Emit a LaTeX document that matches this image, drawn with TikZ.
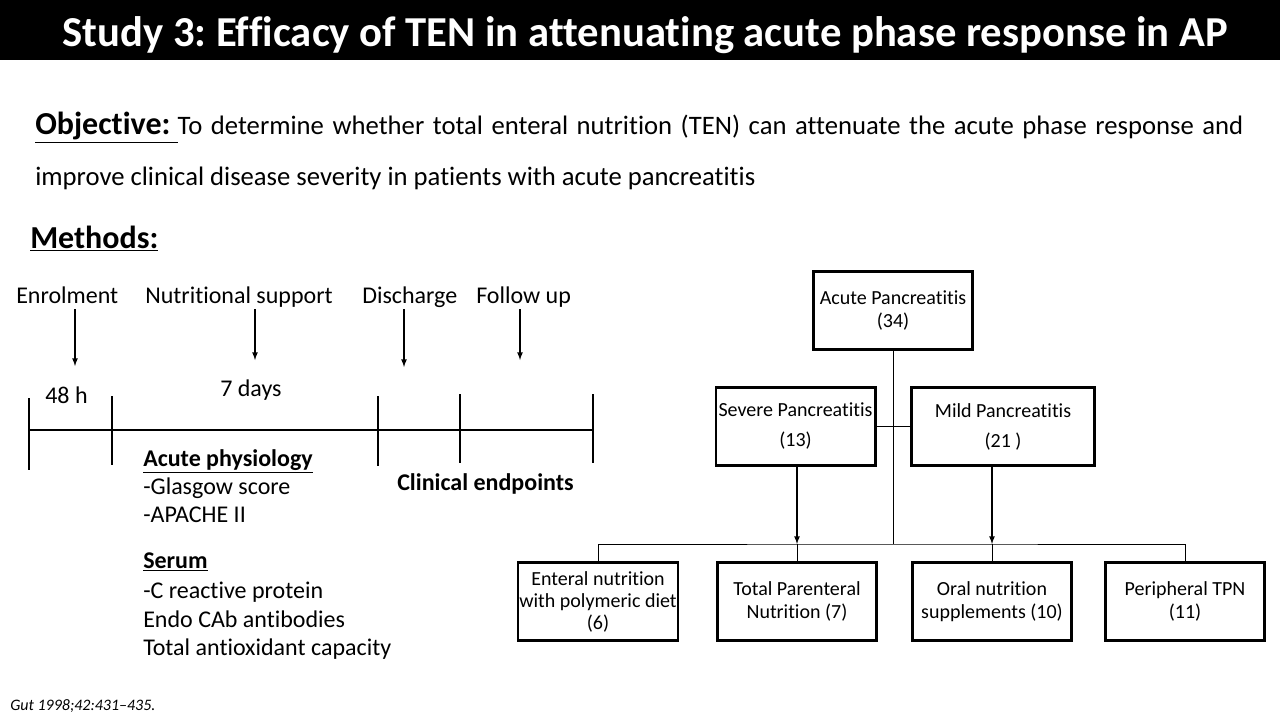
\documentclass[tikz,border=0pt]{standalone}
\usepackage{fontspec}
\setmainfont{Carlito}[Ligatures=NoCommon]
\usetikzlibrary{arrows.meta}
\frenchspacing
\tikzset{
  txt/.style={anchor=base west, inner sep=0pt, font=\fontsize{18}{21.5}\selectfont},
  stage/.style={txt, text depth=4.5pt},
  box/.style={draw, line width=2pt, align=center, inner sep=1pt, minimum width=119.5pt, minimum height=58.75pt, font=\fontsize{15}{17.25}\selectfont},
  link/.style={line width=0.75pt},
}

\begin{document}
\begin{tikzpicture}[x=0.75pt,y=-0.75pt]
                \useasboundingbox (0,0) rectangle (1280,720);
                % title bar
                \fill[black] (0,0) rectangle (1280,60);
                \node[anchor=base, inner sep=0pt, text=white, font=\fontsize{32}{38}\selectfont\bfseries] (title) at (645,47) {Study 3: Efficacy of TEN in attenuating acute phase response in AP};

                \node[txt, text width=906pt, align=justify, font=\fontsize{20}{38}\selectfont] (objective) at (35,135) {{\fontsize{24}{28}\selectfont\bfseries\underline{Objective:\ }}To determine whether total enteral nutrition (TEN) can attenuate the acute phase response and\linebreak improve clinical disease severity in patients with acute pancreatitis};
                \node[txt, font=\fontsize{24}{28}\selectfont\bfseries] (methods) at (30,248) {\underline{Methods:}};

                % timeline
                \node[stage] (enrol) at (16,303) {Enrolment};
                \node[stage] (nutr) at (145,303) {Nutritional support};
                \node[stage] (disch) at (362,303) {Discharge};
                \node[stage] (follow) at (476,303) {Follow up};
                \coordinate (enrolTip) at (75,366);
                \coordinate (nutrTip) at (255,360);
                \coordinate (dischTip) at (404,367);
                \coordinate (followTip) at (520,360);
                \draw[-latex, line width=1pt] (enrol.south -| enrolTip) -- (enrolTip);
                \draw[-latex, line width=1pt] (nutr.south -| nutrTip) -- (nutrTip);
                \draw[-latex, line width=1pt] (disch.south -| dischTip) -- (dischTip);
                \draw[-latex, line width=1pt] (follow.south -| followTip) -- (followTip);
                \node[txt] (hours) at (45,403) {48 h};
                \node[txt] (days) at (220,396) {7 days};

                \draw[line width=1.2pt] (30,430) -- (593,430);
                \draw[line width=1.3pt] (29,398) -- (29,470);
                \draw[line width=1.3pt] (112,396) -- (112,465);
                \draw[line width=1.3pt] (378,396) -- (378,466);
                \draw[line width=1.3pt] (460,394) -- (460,463);
                \draw[line width=1.3pt] (593,394) -- (593,463);

                % measurements
                \node[txt, font=\fontsize{18}{21.5}\selectfont\bfseries] (physio) at (143,466) {\underline{Acute physiology}};
                \node[txt] (glasgow) at (143,494) {-Glasgow score};
                \node[txt] (apache) at (143,522) {-APACHE II};
                \node[txt, font=\fontsize{18}{21.5}\selectfont\bfseries] (serum) at (143,568) {\underline{Serum}};
                \node[txt] (crp) at (143,598) {-C reactive protein};
                \node[txt] (endo) at (143,627) {Endo CAb antibodies};
                \node[txt] (tac) at (143,655) {Total antioxidant capacity};
                \node[txt, font=\fontsize{18}{21.5}\selectfont\bfseries] (endpoints) at (397,490) {Clinical endpoints};

                % flow of patients
                \node[box] (acute) at (893,310.5) {Acute Pancreatitis\\(34)};
                \node[box, font=\fontsize{15}{22.5}\selectfont] (severe) at (795.5,426.5) {Severe Pancreatitis\\(13)};
                \node[box, minimum width=137.5pt, font=\fontsize{15}{22.5}\selectfont] (mild) at (1003,426.5) {Mild Pancreatitis\\(21 )};
                \node[box, font=\fontsize{15}{16.5}\selectfont] (enteral) at (598,601.5) {Enteral nutrition\\with polymeric diet\\(6)};
                \node[box] (tpn) at (797,601.5) {Total Parenteral\\Nutrition (7)};
                \node[box] (oral) at (992,601.5) {Oral nutrition\\supplements (10)};
                \node[box] (periph) at (1185,601.5) {Peripheral TPN\\(11)};

                \coordinate (bus) at (893,544);
                \draw[link] (acute) -- (bus);
                \draw[link] (severe.east) -- (mild.west);
                \draw[link] (enteral.north) |- (bus) -| (periph.north);
                \draw[link] (tpn.north) -- (tpn.north |- bus);
                \draw[link] (oral.north) -- (oral.north |- bus);
                \draw[-latex, line width=1pt] (severe.south -| tpn.north) -- (tpn.north |- bus);
                \draw[-latex, line width=1pt] (mild.south -| oral.north) -- (oral.north |- bus);

                \node[txt, font=\fontsize{12}{14}\selectfont\itshape] (cite) at (10,710) {Gut 1998;42:431--435.};
\end{tikzpicture}
\end{document}
